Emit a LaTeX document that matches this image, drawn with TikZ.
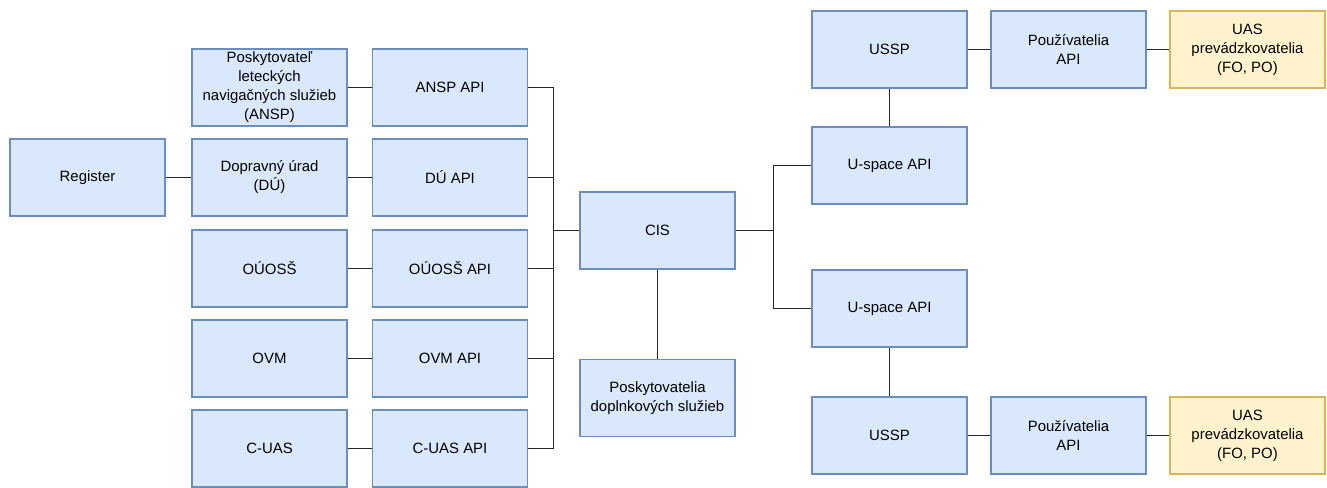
\documentclass[tikz,border=0pt]{standalone}
\usepackage{fontspec}
\setmainfont{Liberation Sans}
\usepackage{tikz}
\usetikzlibrary{positioning, calc}
\definecolor{modra}{HTML}{DAE8FC}
\definecolor{modraCiara}{HTML}{6C8EBF}
\definecolor{zlta}{HTML}{FFF2CC}
\definecolor{zltaCiara}{HTML}{D6B656}
\tikzset{blok/.style = {rectangle,draw=modraCiara,fill=modra,line width=0.9pt,minimum width=116.25pt,minimum height=57.75pt,inner sep=1pt,align=center,font=\fontsize{11.2}{14.2}\selectfont},
         zlty/.style = {blok,draw=zltaCiara,fill=zlta},
         spoj/.style = {draw=black!85,line width=0.8pt}}

\begin{document}
\begin{tikzpicture}[x=0.75pt,y=-0.75pt]
        \useasboundingbox (0,0) rectangle (1327,487);
        \clip (0,0) rectangle (1327,487);
        \node [blok] (reg) at (87.5,177.5) {Register};
        \node [blok] (ansp) at (269.5,87.5) {Poskytovateľ\\leteckých\\navigačných služieb\\(ANSP)};
        \node [blok] (du) at (269.5,177.5) {Dopravný úrad\\(DÚ)};
        \node [blok] (ouoss) at (269.5,268.5) {OÚOSŠ};
        \node [blok] (ovm) at (269.5,358.5) {OVM};
        \node [blok] (cuas) at (269.5,448.5) {C-UAS};
        \node [blok] (ansp api) at (450,87.5) {ANSP API};
        \node [blok] (du api) at (450,177.5) {DÚ API};
        \node [blok] (ouoss api) at (450,268.5) {OÚOSŠ API};
        \node [blok] (ovm api) at (450,358.5) {OVM API};
        \node [blok] (cuas api) at (450,448.5) {C-UAS API};
        \node [blok] (cis) at (657.5,230.5) {CIS};
        \node [blok] (dopl) at (657.5,398) {Poskytovatelia\\doplnkových služieb};
        \node [blok] (usp1) at (889.5,165.5) {U-space API};
        \node [blok] (ussp1) at (889.5,49.5) {USSP};
        \node [blok] (pouz1) at (1068.5,49.5) {Používatelia\\API};
        \node [zlty] (uas1) at (1247.5,49.5) {UAS\\prevádzkovatelia\\(FO, PO)};
        \node [blok] (usp2) at (889.5,308.5) {U-space API};
        \node [blok] (ussp2) at (889.5,435.5) {USSP};
        \node [blok] (pouz2) at (1068.5,435.5) {Používatelia\\API};
        \node [zlty] (uas2) at (1247.5,435.5) {UAS\\prevádzkovatelia\\(FO, PO)};
        \coordinate (lb) at (553.5,230.5);
        \coordinate (rb) at (773.5,230.5);
        \draw [spoj] (reg) -- (du);
        \foreach \n in {ansp,du,ouoss,ovm,cuas} {
            \draw [spoj] (\n) -- (\n\space api);
            \draw [spoj] (\n\space api.east) -| (lb) -- (cis.west);
        }
        \draw [spoj] (cis) -- (dopl);
        \draw [spoj] (cis.east) -- (rb) |- (usp1.west);
        \draw [spoj] (rb) |- (usp2.west);
        \draw [spoj] (usp1) -- (ussp1);
        \draw [spoj] (usp2) -- (ussp2);
        \draw [spoj] (ussp1) -- (pouz1);
        \draw [spoj] (pouz1) -- (uas1);
        \draw [spoj] (ussp2) -- (pouz2);
        \draw [spoj] (pouz2) -- (uas2);
    \end{tikzpicture}
\end{document}
